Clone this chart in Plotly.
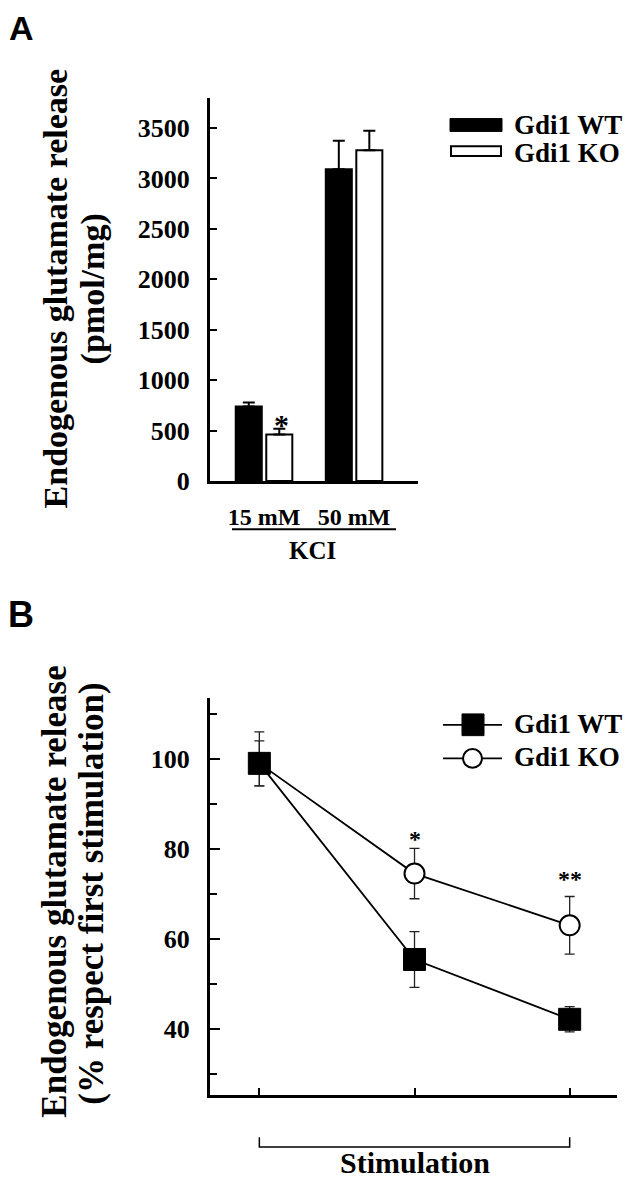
import plotly.graph_objects as go

# The page keeps its default 8px body margin; the figure is sized so that the page
# is exactly 633x1199, and reference pixel positions are offset by that margin.
OFF = 8
W, H = 633 - 2 * OFF, 1199 - 2 * OFF
def px(x): return (x - OFF) / W
def py(y): return 1 - (y - OFF) / H

SERIF = "Liberation Serif"
SANS = "Liberation Sans"

# ---- Panel A data ----
kcl_categories = ["15 mM", "50 mM"]
wt_release = [738, 3091]
wt_err = [39, 284]
ko_release = [461, 3281]
ko_err = [56, 192]
a_ticks = [0, 500, 1000, 1500, 2000, 2500, 3000, 3500]

# ---- Panel B data ----
stim_x = [0, 1, 2]
wt_pct = [99, 55.4, 42.1]
wt_pct_err = [5, 6.2, 2.8]
ko_pct = [99, 74.5, 63.0]
ko_pct_err_up = [7, 5.6, 6.4]
ko_pct_err_dn = [5, 5.6, 6.4]
b_major = [40, 60, 80, 100]

fig = go.Figure()

fig.add_trace(go.Bar(
    x=kcl_categories, y=wt_release, name="Gdi1 WT",
    marker=dict(color="black", line=dict(color="black", width=2)),
    error_y=dict(type="data", symmetric=False, array=wt_err, arrayminus=[0, 0],
                 color="black", thickness=2, width=6),
    xaxis="x", yaxis="y", showlegend=False))
fig.add_trace(go.Bar(
    x=kcl_categories, y=ko_release, name="Gdi1 KO",
    marker=dict(color="white", line=dict(color="black", width=2)),
    error_y=dict(type="data", symmetric=False, array=ko_err, arrayminus=[0, 0],
                 color="black", thickness=2, width=6),
    xaxis="x", yaxis="y", showlegend=False))

fig.add_trace(go.Scatter(
    x=stim_x, y=ko_pct, mode="lines+markers", name="Gdi1 KO",
    line=dict(color="black", width=1.8),
    marker=dict(symbol="circle", size=20, color="white", line=dict(color="black", width=2)),
    error_y=dict(type="data", symmetric=False, array=ko_pct_err_up, arrayminus=ko_pct_err_dn,
                 color="#222", thickness=1.3, width=5),
    xaxis="x2", yaxis="y2", showlegend=False))
fig.add_trace(go.Scatter(
    x=stim_x, y=wt_pct, mode="lines+markers", name="Gdi1 WT",
    line=dict(color="black", width=1.8),
    marker=dict(symbol="square", size=22, color="black", line=dict(color="black", width=1)),
    error_y=dict(type="data", array=wt_pct_err, color="#222", thickness=1.3, width=5),
    xaxis="x2", yaxis="y2", showlegend=False))

tickfont = dict(family=SERIF, size=26, color="black", weight="bold")

fig.update_layout(
    width=W, height=H, margin=dict(l=0, r=0, t=0, b=0),
    paper_bgcolor="white", plot_bgcolor="white",
    barmode="group", bargap=0.322, bargroupgap=0.147,
    xaxis=dict(domain=[px(210), px(418)], anchor="y", type="category",
               range=[-0.6, 1.71], showline=True, linecolor="black", linewidth=3,
               ticks="", showgrid=False, zeroline=False,
               tickfont=dict(family=SERIF, size=24, color="black", weight="bold"),
               ticklabelstandoff=12),
    yaxis=dict(domain=[py(487), py(99)], anchor="x", range=[0, 3800],
               tickvals=a_ticks, ticks="inside", ticklen=7, tickwidth=2, tickcolor="black",
               showline=True, linecolor="black", linewidth=3, showgrid=False, zeroline=False,
               tickfont=tickfont, ticklabelstandoff=12),
    xaxis2=dict(domain=[px(210), px(617)], anchor="y2", range=[-0.318, 2.305],
                tickvals=stim_x, showticklabels=False, ticks="inside", ticklen=7,
                tickwidth=1.5, tickcolor="black",
                showline=True, linecolor="black", linewidth=3, showgrid=False, zeroline=False),
    yaxis2=dict(domain=[py(1109.3), py(707)], anchor="x2", range=[25.2, 113.5],
                tickvals=b_major, ticks="inside", ticklen=10, tickwidth=1.5, tickcolor="black",
                minor=dict(dtick=10, tick0=0, ticks="inside", ticklen=7, tickwidth=1.5,
                           tickcolor="black", showgrid=False),
                showline=True, linecolor="black", linewidth=3, showgrid=False, zeroline=False,
                tickfont=tickfont, ticklabelstandoff=12),
)

def txt(x, y, s, size, family=SERIF, xanchor="center", yanchor="middle", angle=0, xref="paper",
        borderpad=1):
    fig.add_annotation(x=x, y=y, xref=xref, yref="paper", text=s, showarrow=False,
                       xanchor=xanchor, yanchor=yanchor, textangle=angle, borderpad=borderpad,
                       font=dict(family=family, size=size, color="black", weight="bold"))

# panel letters
txt(px(8), py(8), "A", 34, family=SANS, xanchor="left", yanchor="top", borderpad=0)
txt(px(6), py(600), "B", 36, family=SANS, xanchor="left", yanchor="top")

# axis titles
txt(px(55), py(293), "Endogenous glutamate release", 34, angle=-90)
txt(px(93), py(293), "(pmol/mg)", 34, angle=-90)
txt(px(55), py(903), "Endogenous glutamate release", 35, angle=-90)
txt(px(92), py(905), "(% respect first stimulation)", 35, angle=-90)

# legend A
fig.add_shape(type="rect", xref="paper", yref="paper", x0=px(450), x1=px(502), y0=py(133), y1=py(120),
              fillcolor="black", line=dict(color="black", width=1))
fig.add_shape(type="rect", xref="paper", yref="paper", x0=px(451), x1=px(501), y0=py(158), y1=py(148),
              fillcolor="white", line=dict(color="black", width=2))
txt(px(512), py(126), "Gdi1 WT", 27, xanchor="left")
txt(px(512), py(155), "Gdi1 KO", 27, xanchor="left")

# KCl bracket
fig.add_shape(type="line", xref="paper", yref="paper", x0=px(232), x1=px(396), y0=py(536), y1=py(536),
              line=dict(color="black", width=2))
txt(px(312), py(557), "KCI", 25)
txt(px(281.7), py(430), "*", 30)

# legend B
fig.add_shape(type="line", xref="paper", yref="paper", x0=px(443), x1=px(502), y0=py(734), y1=py(734),
              line=dict(color="black", width=1.8))
fig.add_shape(type="rect", xref="paper", yref="paper", x0=px(462), x1=px(484), y0=py(745), y1=py(723),
              fillcolor="black", line=dict(color="black", width=1))
fig.add_shape(type="line", xref="paper", yref="paper", x0=px(443), x1=px(502), y0=py(768), y1=py(768),
              line=dict(color="black", width=1.8))
fig.add_shape(type="circle", xref="paper", yref="paper", x0=px(463), x1=px(482), y0=py(777.5), y1=py(758.5),
              fillcolor="white", line=dict(color="black", width=2))
txt(px(512), py(733), "Gdi1 WT", 27, xanchor="left")
txt(px(512), py(767), "Gdi1 KO", 27, xanchor="left")

# stars B
txt(1, py(850), "*", 24, xref="x2")
txt(2, py(890), "**", 24, xref="x2")

# Stimulation bracket
fig.add_shape(type="path", xref="x2", yref="paper",
              path=f"M 0,{py(1151.7)} L 0,{py(1161.7)} L 2,{py(1161.7)} L 2,{py(1151.7)}",
              line=dict(color="black", width=1.5))
txt(1, py(1177), "Stimulation", 30, xref="x2")

fig.write_html("out.html", config={"displayModeBar": False})
